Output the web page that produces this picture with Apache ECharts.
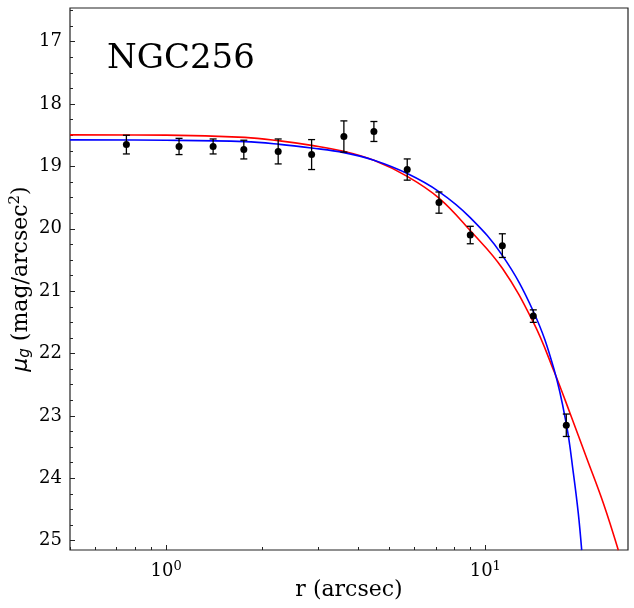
<!DOCTYPE html>
<html>
<head>
<meta charset="utf-8">
<script src="https://cdn.jsdelivr.net/npm/echarts@6/dist/echarts.min.js"></script>
<style>
    html, body { margin: 0; padding: 0; background: #fff; }
    #profile { width: 634px; height: 608px; }
</style>
</head>
<body>
<div id="profile"></div>
<script>
// observed surface brightness profile
var radius = [0.751, 1.098, 1.404, 1.752, 2.245, 2.857, 3.606, 4.478, 5.695, 7.16, 8.974, 11.31, 14.14, 17.94];
var muObs = [18.65, 18.68, 18.68, 18.73, 18.76, 18.81, 18.52, 18.44, 19.05, 19.58, 20.10, 20.27, 21.40, 23.15];
var muErr = [0.15, 0.13, 0.12, 0.15, 0.20, 0.24, 0.25, 0.16, 0.17, 0.17, 0.14, 0.19, 0.10, 0.18];

// fitted models
var redR = [0.5, 1.0, 1.765, 2.272, 2.857, 3.606, 4.478, 5.695, 7.175, 8.954, 11.31, 14.14, 16.42, 18.43, 20.79, 23.44, 26.12];
var redMu = [18.494, 18.498, 18.534, 18.590, 18.662, 18.758, 18.902, 19.159, 19.511, 20.024, 20.633, 21.498, 22.284, 22.957, 23.678, 24.40, 25.155];
var blueR = [0.5, 1.0, 1.765, 2.272, 2.857, 3.606, 4.478, 5.695, 7.175, 8.954, 11.31, 14.14, 16.42, 17.97, 18.88, 19.56, 20.05];
var blueMu = [18.574, 18.580, 18.603, 18.646, 18.705, 18.779, 18.902, 19.115, 19.407, 19.816, 20.426, 21.322, 22.252, 23.149, 23.918, 24.559, 25.152];

// ticks
var xMajor = [1, 10];
var xMinor = [0.5, 0.6, 0.7, 0.8, 0.9, 2, 3, 4, 5, 6, 7, 8, 9, 20];
var yMajor = [17, 18, 19, 20, 21, 22, 23, 24, 25];
var yMinor = [16.5, 16.75, 17.25, 17.5, 17.75, 18.25, 18.5, 18.75, 19.25, 19.5, 19.75,
    20.25, 20.5, 20.75, 21.25, 21.5, 21.75, 22.25, 22.5, 22.75, 23.25, 23.5, 23.75,
    24.25, 24.5, 24.75];

(function(echarts) {
    var SERIF = 'DejaVu Serif';
    var chart = echarts.init(document.getElementById('profile'));

    function zip(a, b, c) {
        return a.map(function(v, i) {
            return c ? [v, b[i], c[i]] : [v, b[i]];
        });
    }

    function errorBar(params, api) {
        var x = api.value(0), y = api.value(1), e = api.value(2);
        var lo = api.coord([x, y - e]);
        var hi = api.coord([x, y + e]);
        var cap = 3.5;
        var st = { stroke: '#000', lineWidth: 1.3 };
        return {
            type: 'group',
            children: [
                { type: 'line', shape: { x1: lo[0], y1: lo[1], x2: hi[0], y2: hi[1] }, style: st },
                { type: 'line', shape: { x1: lo[0] - cap, y1: lo[1], x2: lo[0] + cap, y2: lo[1] }, style: st },
                { type: 'line', shape: { x1: hi[0] - cap, y1: hi[1], x2: hi[0] + cap, y2: hi[1] }, style: st }
            ]
        };
    }

    var xBase = {
        type: 'log',
        logBase: 10,
        min: 0.5,
        max: 28,
        position: 'bottom',
        axisLine: { show: false },
        splitLine: { show: false }
    };
    var yBase = {
        type: 'value',
        inverse: true,
        min: 16.46,
        max: 25.15,
        position: 'left',
        axisLine: { show: false },
        splitLine: { show: false }
    };

    var option = {
        animation: false,
        backgroundColor: '#fff',
        grid: {
            left: 70,
            top: 8,
            right: 6,
            bottom: 58,
            containLabel: false,
            outerBoundsMode: 'none',
            show: true,
            borderColor: '#222',
            borderWidth: 1.2
        },
        graphic: [{
            type: 'text',
            left: 107,
            top: 42,
            style: {
                text: 'NGC256',
                font: '34px "DejaVu Serif"',
                fill: '#000'
            }
        }],
        xAxis: [
            Object.assign({}, xBase, {
                name: 'r (arcsec)',
                nameLocation: 'middle',
                nameGap: 29,
                nameMoveOverlap: false,
                nameTextStyle: { fontFamily: SERIF, fontSize: 22, color: '#000' },
                axisTick: { inside: true, length: 5, customValues: xMajor, lineStyle: { color: '#222' } },
                axisLabel: {
                    customValues: xMajor,
                    margin: 10,
                    formatter: function(v) {
                        return '{b|10}{s|' + Math.round(Math.log10(v)) + '}';
                    },
                    rich: {
                        b: { fontFamily: SERIF, fontSize: 18, color: '#000' },
                        s: { fontFamily: SERIF, fontSize: 13, color: '#000', padding: [0, 0, 9, 0] }
                    }
                }
            }),
            Object.assign({}, xBase, {
                axisTick: { inside: true, length: 3, customValues: xMinor, lineStyle: { color: '#222' } },
                axisLabel: { show: false }
            })
        ],
        yAxis: [
            Object.assign({}, yBase, {
                name: '{m|μ}{g|g}{t| (mag/arcsec}{s|2}{t|)}',
                nameLocation: 'middle',
                nameRotate: 90,
                nameGap: 36,
                nameMoveOverlap: false,
                nameTextStyle: {
                    rich: {
                        m: { fontFamily: 'DejaVu Sans', fontStyle: 'italic', fontSize: 22, color: '#000' },
                        g: { fontFamily: 'DejaVu Sans', fontStyle: 'italic', fontSize: 15, color: '#000', padding: [9, 0, 0, 0] },
                        t: { fontFamily: SERIF, fontSize: 22, color: '#000' },
                        s: { fontFamily: SERIF, fontSize: 15, color: '#000', padding: [0, 0, 11, 0] }
                    }
                },
                axisTick: { inside: true, length: 5, customValues: yMajor, lineStyle: { color: '#222' } },
                axisLabel: {
                    customValues: yMajor,
                    margin: 8,
                    fontFamily: SERIF,
                    fontSize: 18,
                    color: '#000'
                }
            }),
            Object.assign({}, yBase, {
                axisTick: { inside: true, length: 3, customValues: yMinor, lineStyle: { color: '#222' } },
                axisLabel: { show: false }
            })
        ],
        series: [{
            type: 'line',
            data: zip(redR, redMu),
            smooth: 0.4,
            showSymbol: false,
            lineStyle: { color: '#ff0000', width: 1.6 },
            z: 2
        }, {
            type: 'line',
            data: zip(blueR, blueMu),
            smooth: 0.4,
            showSymbol: false,
            lineStyle: { color: '#0000ff', width: 1.6 },
            z: 3
        }, {
            type: 'custom',
            renderItem: errorBar,
            data: zip(radius, muObs, muErr),
            encode: { x: 0, y: 1 },
            z: 4
        }, {
            type: 'scatter',
            data: zip(radius, muObs),
            symbolSize: 7,
            itemStyle: { color: '#000', opacity: 1 },
            z: 5
        }]
    };

    chart.setOption(option);
}(echarts));
</script>
</body>
</html>
